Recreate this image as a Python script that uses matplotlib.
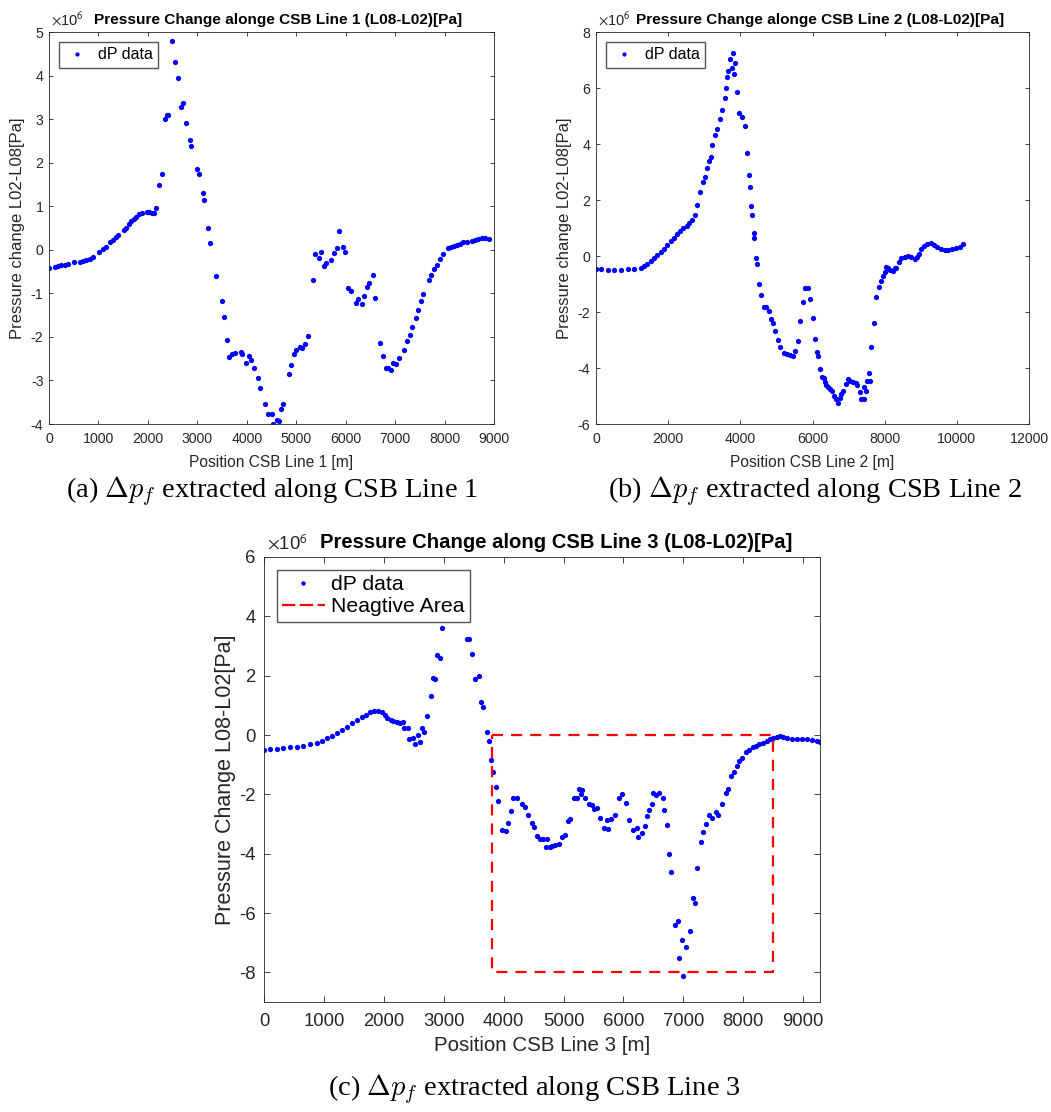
import matplotlib
matplotlib.use("Agg")
import matplotlib.pyplot as plt
from matplotlib.lines import Line2D

plt.rcParams["font.family"] = ["Liberation Sans", "DejaVu Sans"]
plt.rcParams["mathtext.fontset"] = "cm"
plt.rcParams["axes.unicode_minus"] = False

# ---- Line 1: position [m] and pressure change [x1e6 Pa] ----
x1 = [0, 112, 180, 248, 316, 384, 500, 622, 690, 758, 826, 894, 1017, 1099, 1153,
      1235, 1289, 1357, 1405, 1507, 1561, 1609, 1656, 1711, 1765, 1827, 1881, 1983,
      2017, 2085, 2119, 2160, 2221, 2276, 2337, 2378, 2405, 2493, 2541, 2609, 2664,
      2718, 2765, 2847, 2881, 2990, 3038, 3106, 3140, 3221, 3262, 3378, 3493, 3534,
      3602, 3650, 3697, 3752, 3874, 3908, 3990, 4037, 4092, 4146, 4228, 4262, 4364,
      4432, 4500, 4534, 4602, 4650, 4690, 4731, 4845, 4892, 4946, 5000, 5067, 5121,
      5182, 5229, 5330, 5377, 5451, 5492, 5552, 5599, 5707, 5768, 5828, 5875, 5943,
      5983, 6051, 6098, 6212, 6253, 6327, 6367, 6428, 6475, 6549, 6596, 6697, 6751,
      6812, 6859, 6926, 6966, 7020, 7081, 7189, 7242, 7303, 7350, 7418, 7465, 7525,
      7572, 7680, 7727, 7788, 7848, 7909, 7963, 8064, 8125, 8192, 8259, 8313, 8380,
      8448, 8549, 8616, 8684, 8751, 8818, 8899]
dp1 = [-0.42, -0.40, -0.38, -0.36, -0.34, -0.32, -0.29, -0.27, -0.26, -0.24, -0.21,
       -0.16, -0.06, 0.02, 0.07, 0.17, 0.22, 0.30, 0.34, 0.46, 0.51, 0.59, 0.65, 0.70,
       0.76, 0.83, 0.85, 0.87, 0.86, 0.84, 0.85, 0.95, 1.48, 1.75, 3.01, 3.10, 3.10,
       4.80, 4.32, 3.94, 3.28, 3.36, 2.91, 2.53, 2.38, 1.86, 1.75, 1.30, 1.14, 0.50,
       0.15, -0.61, -1.17, -1.55, -2.08, -2.46, -2.39, -2.36, -2.35, -2.40, -2.60,
       -2.43, -2.54, -2.71, -2.94, -3.17, -3.53, -3.78, -3.76, -3.99, -3.91, -3.93,
       -3.66, -3.55, -2.85, -2.65, -2.39, -2.31, -2.24, -2.25, -2.16, -1.97, -0.69,
       -0.10, -0.20, -0.04, -0.38, -0.30, -0.24, -0.08, 0.03, 0.43, 0.07, -0.04,
       -0.88, -0.95, -1.23, -1.12, -1.24, -1.06, -0.85, -0.76, -0.58, -1.11, -2.14,
       -2.43, -2.72, -2.71, -2.75, -2.59, -2.62, -2.49, -2.29, -2.10, -1.96, -1.78,
       -1.56, -1.39, -1.18, -1.01, -0.69, -0.58, -0.45, -0.34, -0.22, -0.10, 0.03,
       0.07, 0.09, 0.11, 0.14, 0.18, 0.19, 0.21, 0.23, 0.24, 0.26, 0.26, 0.25]

# ---- Line 2 ----
x2 = [0, 138, 322, 506, 690, 875, 1059, 1243, 1335, 1427, 1519, 1611, 1703, 1796,
      1888, 1980, 2072, 2164, 2238, 2330, 2422, 2514, 2587, 2670, 2744, 2808, 2882,
      2956, 3020, 3085, 3140, 3177, 3223, 3287, 3361, 3435, 3499, 3573, 3600, 3637,
      3665, 3711, 3757, 3794, 3831, 3858, 3895, 3969, 4052, 4116, 4190, 4236, 4263,
      4300, 4337, 4365, 4392, 4429, 4475, 4521, 4586, 4650, 4715, 4797, 4862, 4899,
      4954, 5037, 5110, 5203, 5295, 5387, 5460, 5525, 5608, 5663, 5727, 5788, 5862,
      5926, 6000, 6065, 6111, 6157, 6203, 6258, 6323, 6341, 6387, 6433, 6479, 6544,
      6599, 6664, 6710, 6756, 6802, 6857, 6922, 6986, 7051, 7124, 7198, 7235, 7309,
      7355, 7419, 7440, 7493, 7510, 7558, 7585, 7631, 7696, 7770, 7843, 7908, 7954,
      8000, 8046, 8092, 8138, 8230, 8276, 8323, 8387, 8461, 8553, 8645, 8737, 8829,
      8894, 8949, 9014, 9088, 9180, 9272, 9364, 9456, 9548, 9659, 9751, 9871, 9982,
      10074, 10166]
dp2 = [-0.46, -0.48, -0.49, -0.49, -0.49, -0.48, -0.45, -0.42, -0.37, -0.27, -0.18,
       -0.08, 0.02, 0.14, 0.26, 0.40, 0.53, 0.65, 0.77, 0.89, 0.99, 1.08, 1.18, 1.27,
       1.48, 1.82, 2.28, 2.65, 2.81, 3.15, 3.38, 3.53, 3.95, 4.33, 4.54, 4.90, 5.21,
       5.64, 6.00, 6.38, 6.62, 7.04, 6.73, 7.24, 6.51, 6.88, 5.86, 5.11, 4.95, 4.66,
       3.69, 2.91, 2.46, 1.79, 1.45, 0.81, 0.65, -0.06, -0.27, -1.00, -1.39, -1.81,
       -1.81, -1.98, -2.26, -2.38, -2.67, -3.00, -3.24, -3.48, -3.50, -3.53, -3.56,
       -3.38, -3.03, -2.32, -1.66, -1.16, -1.16, -1.54, -2.22, -2.97, -3.44, -3.57,
       -4.04, -4.33, -4.37, -4.51, -4.61, -4.67, -4.75, -4.83, -5.01, -5.11, -5.25,
       -5.07, -4.93, -4.83, -4.57, -4.39, -4.48, -4.51, -4.55, -4.60, -4.87, -5.11,
       -5.11, -4.69, -4.83, -4.48, -4.18, -4.45, -3.24, -2.40, -1.45, -1.10, -0.89,
       -0.71, -0.56, -0.38, -0.42, -0.51, -0.53, -0.42, -0.42, -0.21, -0.08, -0.04,
       -0.01, -0.04, -0.10, -0.04, 0.08, 0.24, 0.36, 0.44, 0.45, 0.39, 0.32, 0.25,
       0.20, 0.20, 0.24, 0.27, 0.32, 0.42]

# ---- Line 3 ----
x3 = [0, 100, 211, 323, 434, 545, 656, 768, 879, 962, 1046, 1129, 1213, 1296, 1380,
      1463, 1547, 1630, 1702, 1769, 1836, 1908, 1964, 2019, 2058, 2114, 2158, 2214,
      2270, 2314, 2337, 2409, 2426, 2481, 2520, 2576, 2604, 2643, 2670, 2715, 2782,
      2826, 2860, 2893, 2938, 2965, 3382, 3421, 3477, 3522, 3588, 3616, 3661, 3716,
      3761, 3783, 3828, 3867, 3911, 3967, 4039, 4078, 4117, 4150, 4217, 4300, 4356,
      4400, 4467, 4506, 4551, 4606, 4662, 4706, 4722, 4773, 4806, 4861, 4917, 4972,
      5028, 5067, 5111, 5167, 5222, 5250, 5289, 5306, 5350, 5417, 5472, 5500, 5556,
      5600, 5667, 5722, 5739, 5789, 5861, 5917, 5972, 6044, 6100, 6167, 6222, 6250,
      6306, 6361, 6400, 6433, 6472, 6500, 6544, 6600, 6656, 6683, 6722, 6761, 6794,
      6861, 6906, 6933, 6972, 7000, 7044, 7111, 7156, 7194, 7233, 7300, 7333, 7372,
      7428, 7472, 7539, 7583, 7639, 7706, 7739, 7794, 7850, 7889, 7933, 7978, 8039,
      8100, 8156, 8211, 8267, 8333, 8389, 8444, 8500, 8556, 8611, 8667, 8722, 8806,
      8889, 8972, 9056, 9139, 9222, 9278]
dp3 = [-0.49, -0.48, -0.47, -0.44, -0.42, -0.40, -0.36, -0.32, -0.26, -0.19, -0.11,
       -0.02, 0.08, 0.18, 0.28, 0.40, 0.51, 0.62, 0.69, 0.76, 0.82, 0.82, 0.76, 0.69,
       0.57, 0.52, 0.47, 0.43, 0.42, 0.44, 0.24, 0.23, -0.13, -0.11, -0.32, -0.01,
       -0.23, 0.23, 0.11, 0.65, 1.30, 1.92, 1.88, 2.70, 2.61, 3.59, 3.25, 3.25, 2.74,
       1.90, 2.00, 1.10, 0.96, 0.10, -0.21, -0.85, -1.25, -1.74, -2.22, -3.20, -3.25,
       -2.95, -2.56, -2.14, -2.14, -2.31, -2.43, -2.71, -2.97, -3.11, -3.39, -3.49,
       -3.51, -3.76, -3.51, -3.76, -3.74, -3.70, -3.66, -3.43, -3.38, -2.90, -2.82,
       -2.14, -2.14, -1.83, -1.99, -1.86, -2.11, -2.31, -2.35, -2.49, -2.46, -2.80,
       -3.13, -2.85, -3.18, -2.82, -2.68, -2.12, -1.99, -2.29, -2.86, -3.19, -3.13,
       -3.43, -3.29, -3.08, -2.74, -2.54, -2.33, -1.97, -2.03, -1.95, -2.12, -2.52,
       -3.05, -4.02, -4.61, -6.39, -6.28, -7.52, -6.90, -8.12, -7.15, -6.61, -5.50,
       -5.65, -4.48, -3.62, -3.26, -3.00, -2.68, -2.80, -2.60, -2.68, -2.31, -1.94,
       -1.81, -1.37, -1.25, -1.03, -0.87, -0.76, -0.57, -0.49, -0.41, -0.36, -0.31,
       -0.26, -0.21, -0.15, -0.10, -0.06, -0.03, -0.06, -0.10, -0.14, -0.14, -0.14,
       -0.15, -0.18, -0.21, -0.22]

# Negative-area box on Line 3: x range [m] and pressure range [x1e6 Pa]
neg_x = [3810, 8490]
neg_dp = [-8, 0]

W, H = 1051, 1112
fig = plt.figure(figsize=(W / 100, H / 100), dpi=100)

AX_COL = "#262626"
BLUE = (0, 0, 1)


def add_axes_px(left, top, right, bottom):
    return fig.add_axes([left / W, 1 - bottom / H, (right - left) / W, (bottom - top) / H])


def style_axes(ax, fs, tick_len, xpad, ypad):
    for s in ax.spines.values():
        s.set_color(AX_COL)
        s.set_linewidth(0.6)
    ax.tick_params(direction="in", top=True, right=True, length=tick_len, width=0.6,
                   colors=AX_COL, labelsize=fs)
    ax.tick_params(axis="x", pad=xpad)
    ax.tick_params(axis="y", pad=ypad)


def add_exponent(ax, fs):
    ax.text(0.005, 1.008, r"$\times$10$^{6}$", transform=ax.transAxes, ha="left",
            va="bottom", fontsize=fs, color=AX_COL, math_fontfamily="stixsans")


def add_title(ax, text, fs, shift_px, width_px):
    ax.text(0.5 + shift_px / width_px, 1.012, text, transform=ax.transAxes,
            ha="center", va="bottom", fontsize=fs, fontweight="bold", color="black")


def labels(ax, xlabel, ylabel, xfs, yfs, xl_y, yl_x):
    ax.set_xlabel(xlabel, fontsize=xfs, color=AX_COL)
    ax.set_ylabel(ylabel, fontsize=yfs, color=AX_COL)
    ax.xaxis.set_label_coords(0.5, xl_y)
    ax.yaxis.set_label_coords(yl_x, 0.5)
    ax.xaxis.label.set_va("center")
    ax.yaxis.label.set_va("center")


# (a) Line 1
ax1 = add_axes_px(49, 32, 494, 424)
ax1.plot(x1, dp1, "o", ms=3.8, mew=0, color=BLUE, label="dP data")
ax1.set_xlim(0, 9000)
ax1.set_ylim(-4, 5)
ax1.set_xticks(range(0, 9001, 1000))
ax1.set_yticks(range(-4, 6))
style_axes(ax1, 10.2, 3, 6, 4)
labels(ax1, "Position CSB Line 1 [m]", "Pressure change L02-L08[Pa]", 11.2, 12,
       -0.097, -0.07)
add_title(ax1, "Pressure Change alonge CSB Line 1 (L08-L02)[Pa]", 11.1, 7, 445)
add_exponent(ax1, 10.5)
ax1.legend(loc="upper left", fontsize=11.5, frameon=True, fancybox=False,
           edgecolor="#555555", framealpha=1, handlelength=1.6, handletextpad=0.5,
           borderpad=0.35, borderaxespad=0.6, markerscale=0.8)

# (b) Line 2
ax2 = add_axes_px(596, 32, 1029, 424)
ax2.plot(x2, dp2, "o", ms=3.8, mew=0, color=BLUE, label="dP data")
ax2.set_xlim(0, 12000)
ax2.set_ylim(-6, 8)
ax2.set_xticks(range(0, 12001, 2000))
ax2.set_yticks(range(-6, 9, 2))
style_axes(ax2, 10.2, 3, 6, 4)
labels(ax2, "Position CSB Line 2 [m]", "Pressure change L02-L08[Pa]", 11.2, 12,
       -0.097, -0.072)
add_title(ax2, "Pressure Change alonge CSB Line 2 (L08-L02)[Pa]", 11.1, 8, 433)
add_exponent(ax2, 10.5)
ax2.legend(loc="upper left", fontsize=11.5, frameon=True, fancybox=False,
           edgecolor="#555555", framealpha=1, handlelength=1.6, handletextpad=0.5,
           borderpad=0.35, borderaxespad=0.6, markerscale=0.8)

# (c) Line 3
ax3 = add_axes_px(264, 557, 820, 1002)
ax3.plot(x3, dp3, "o", ms=3.8, mew=0, color=BLUE, label="dP data")
rect_x = [neg_x[0], neg_x[1], neg_x[1], neg_x[0], neg_x[0]]
rect_y = [neg_dp[1], neg_dp[1], neg_dp[0], neg_dp[0], neg_dp[1]]
ax3.plot(rect_x, rect_y, color="red", lw=1.6, linestyle=(0, (5.0, 3.6)))
ax3.set_xlim(0, 9280)
ax3.set_ylim(-9, 6)
ax3.set_xticks(range(0, 9001, 1000))
ax3.set_yticks(range(-8, 7, 2))
style_axes(ax3, 13.3, 4.5, 8, 6)
labels(ax3, "Position CSB Line 3 [m]", "Pressure Change L08-L02[Pa]", 14.8, 15.5,
       -0.098, -0.07)
add_title(ax3, "Pressure Change along CSB Line 3 (L08-L02)[Pa]", 14.6, 14, 556)
add_exponent(ax3, 13.3)
leg_handles = [
    Line2D([], [], ls="none", marker="o", ms=3.2, mew=0, color=BLUE),
    Line2D([], [], color="red", lw=1.6, linestyle=(0, (6, 2))),
]
ax3.legend(leg_handles, ["dP data", "Neagtive Area"], loc="upper left", fontsize=15.3,
           frameon=True, fancybox=False, edgecolor="#555555", framealpha=1,
           handlelength=2.0, handletextpad=0.3, borderpad=0.25, borderaxespad=0.6,
           labelspacing=0.15)

# Sub-figure captions
cap_kw = dict(ha="center", va="center", fontsize=20.5, family=["Liberation Serif"])
fig.text(272 / W, 1 - 491 / H, r"(a) $\Delta p_f$ extracted along CSB Line 1", **cap_kw)
fig.text(815 / W, 1 - 491 / H, r"(b) $\Delta p_f$ extracted along CSB Line 2", **cap_kw)
fig.text(534 / W, 1 - 1089 / H, r"(c) $\Delta p_f$ extracted along CSB Line 3", **cap_kw)

fig.savefig("out.png", dpi=100)
